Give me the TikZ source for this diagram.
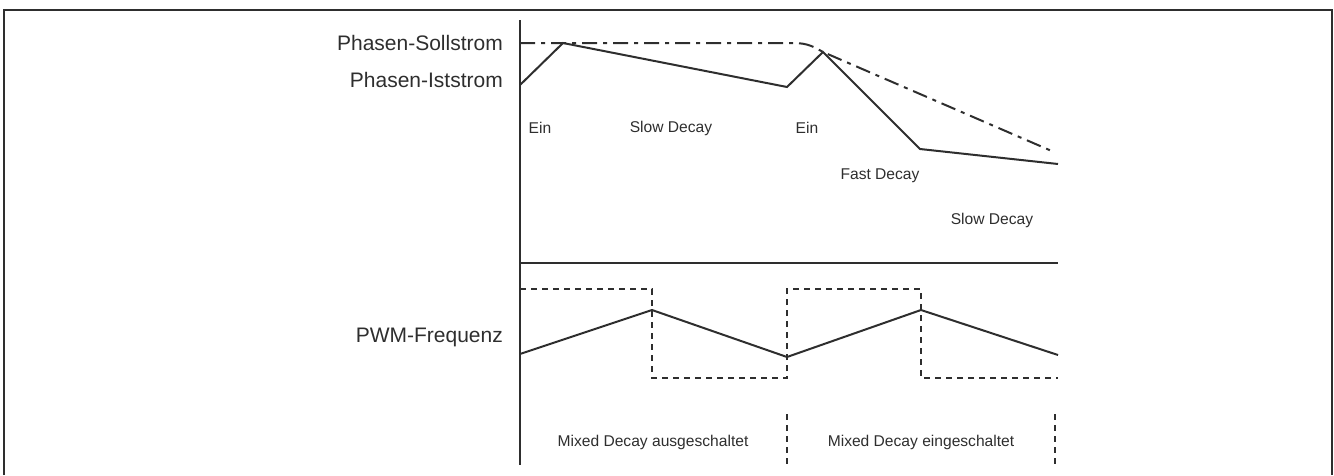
\documentclass[tikz,border=0pt]{standalone}
\usepackage{fontspec}
\setmainfont{Liberation Sans}
\usepackage{tikz}
\usetikzlibrary{positioning}
\definecolor{ink}{HTML}{2E2E2E}
\tikzset{
  biglabel/.style={font=\fontsize{21}{25}\selectfont, text=ink, inner sep=0pt, anchor=east},
  smalllabel/.style={font=\fontsize{15.6}{19}\selectfont, text=ink, inner sep=0pt},
  kurve/.style={ink, line width=2pt},
  sollkurve/.style={ink, line width=2pt, dash pattern=on 15pt off 6pt on 4pt off 6pt},
  pwmkurve/.style={ink, line width=2pt, dash pattern=on 6pt off 5pt},
  achse/.style={ink, line width=2.5pt}
}

\begin{document}
\begin{tikzpicture}[x=1pt,y=-1pt]
\useasboundingbox (0,0) rectangle (1334,475);
\draw[ink, line width=2pt] (4,475)--(4,10)--(1332,10)--(1332,475);
% Achsen
\coordinate (o) at (520,20);
\coordinate (u) at (520,465);
\coordinate (m) at (520,263);
\coordinate (me) at (1058,263);
\draw[achse] (o)--(u);
\draw[achse] (m)--(me);
% Sollstrom
\coordinate (s0) at (520,43);
\coordinate (s1) at (793,43);
\coordinate (s2) at (823,52);
\coordinate (s3) at (1054,152);
\draw[sollkurve] (s0)--(s1) .. controls (808,43) and (814,47) .. (s2)--(s3);
% Iststrom
\coordinate (i0) at (520,85);
\coordinate (i1) at (563,43);
\coordinate (i2) at (787,87);
\coordinate (i3) at (823,52);
\coordinate (i4) at (920,149);
\coordinate (i5) at (1058,164);
\draw[kurve] (i0)--(i1)--(i2)--(i3)--(i4)--(i5);
% PWM
\coordinate (p0) at (520,289);
\coordinate (p1) at (652,289);
\coordinate (p2) at (652,378);
\coordinate (p3) at (787,378);
\coordinate (p4) at (787,289);
\coordinate (p5) at (921,289);
\coordinate (p6) at (921,378);
\coordinate (p7) at (1058,378);
\draw[pwmkurve] (p0)--(p1)--(p2)--(p3)--(p4)--(p5)--(p6)--(p7);
\coordinate (f0) at (520,354);
\coordinate (f1) at (652,310);
\coordinate (f2) at (787,357);
\coordinate (f3) at (921,310);
\coordinate (f4) at (1058,355);
\draw[kurve] (f0)--(f1)--(f2)--(f3)--(f4);
% Trennlinien
\draw[pwmkurve] (787,414)--(787,465);
\draw[pwmkurve] (1055,414)--(1055,465);
% Beschriftung
\node[biglabel] (soll) at (503,43) {Phasen-Sollstrom};
\node[biglabel] (ist) at (503,80) {Phasen-Iststrom};
\node[biglabel] (freq) at (503,337) {PWM-Frequenz};
\node[smalllabel] (ein1) at (540,128) {Ein};
\node[smalllabel] (slow1) at (671,128) {Slow Decay};
\node[smalllabel] (ein2) at (807,128) {Ein};
\node[smalllabel] (fast) at (880,176) {Fast Decay};
\node[smalllabel] (slow2) at (992,220) {Slow Decay};
\node[smalllabel] (aus) at (653,442) {Mixed Decay ausgeschaltet};
\node[smalllabel] (an) at (921,442) {Mixed Decay eingeschaltet};
\end{tikzpicture}
\end{document}
